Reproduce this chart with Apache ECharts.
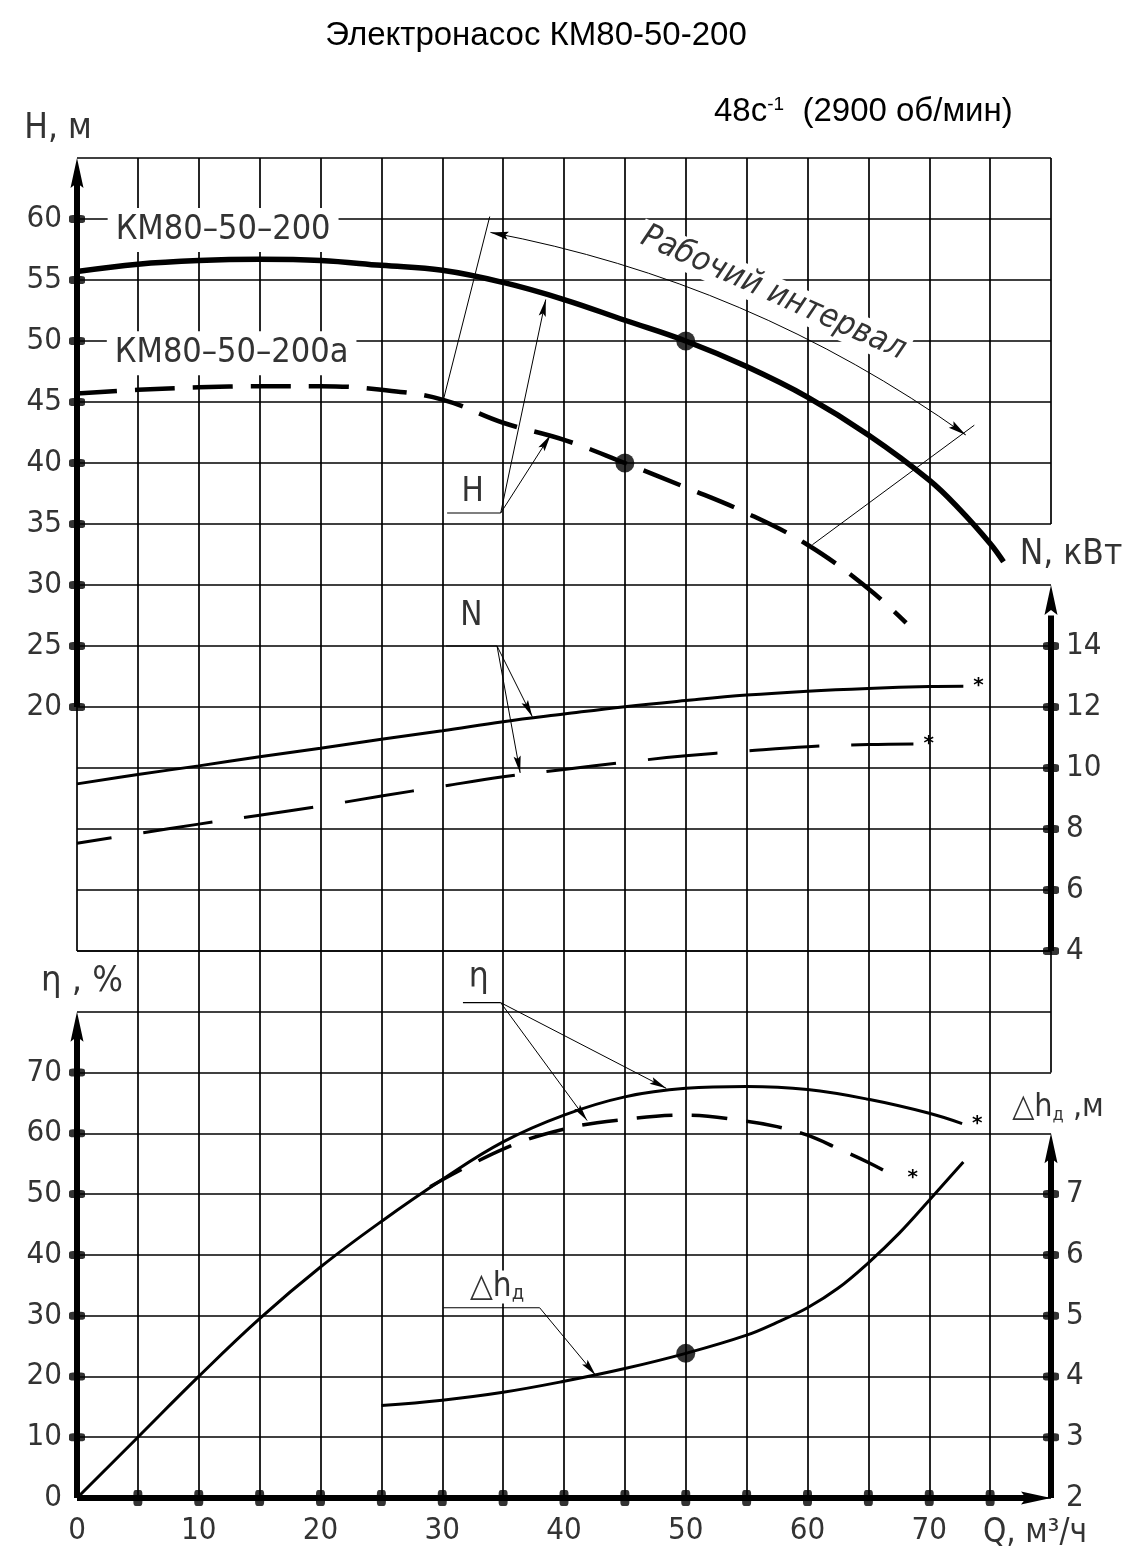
<!DOCTYPE html>
<html>
<head>
<meta charset="utf-8">
<title>Электронасос КМ80-50-200</title>
<script src="https://cdn.jsdelivr.net/npm/echarts@6.0.0/dist/echarts.min.js"></script>
<style>
  html, body { margin: 0; padding: 0; background: #fff; }
  #chart { width: 1135px; height: 1557px; }
</style>
</head>
<body>
<div id="chart"></div>
<script>
const FONT = '"Liberation Sans Narrow", "DejaVu Sans Condensed", "Roboto Condensed", sans-serif'
const TITLE_FONT = '"Liberation Sans", Arial, sans-serif'

// axis labels
const qLabels = [0, 10, 20, 30, 40, 50, 60, 70]
const qTickMarks = [5, 10, 15, 20, 25, 30, 35, 40, 45, 50, 55, 60, 65, 70, 75]
const hLabels = [20, 25, 30, 35, 40, 45, 50, 55, 60]
const nLabels = [4, 6, 8, 10, 12, 14]
const etaLabels = [0, 10, 20, 30, 40, 50, 60, 70]
const dhLabels = [2, 3, 4, 5, 6, 7]

// H(Q), КМ80-50-200
const hMainQ = [0, 5, 10, 15, 20, 25, 30, 35, 40, 45, 50, 55, 60, 65, 70, 72.5, 75, 76.1]
const hMainH = [55.7, 56.3, 56.6, 56.7, 56.6, 56.2, 55.8, 54.8, 53.4, 51.7, 50.0, 47.9, 45.4, 42.3, 38.6, 36.2, 33.4, 31.9]
// H(Q), КМ80-50-200а
const hAltQ = [0, 5, 10, 15, 20, 25, 30, 35, 40, 45, 50, 55, 60, 65, 68.1]
const hAltH = [45.7, 46.0, 46.2, 46.3, 46.3, 46.0, 45.2, 43.3, 41.9, 40.0, 38.0, 35.9, 33.3, 29.7, 26.9]
// N(Q), кВт
const nMainQ = [0, 5, 10, 15, 20, 25, 30, 35, 40, 45, 50, 55, 60, 65, 70, 72.8]
const nMainN = [9.48, 9.79, 10.07, 10.37, 10.65, 10.94, 11.22, 11.52, 11.77, 12.01, 12.21, 12.39, 12.52, 12.61, 12.67, 12.68]
const nAltQ = [0, 5, 10, 15, 20, 25, 30, 35, 40, 45, 50, 55, 60, 65, 68.7]
const nAltN = [7.53, 7.85, 8.16, 8.45, 8.75, 9.08, 9.40, 9.71, 9.95, 10.19, 10.40, 10.56, 10.70, 10.77, 10.79]
// η(Q), %
const etaMainQ = [0, 5, 10, 15, 20, 25, 30, 35, 40, 45, 50, 55, 60, 65, 70, 72.7]
const etaMainE = [0, 10.0, 20.0, 29.5, 38.0, 45.5, 52.4, 58.6, 63.0, 66.0, 67.4, 67.7, 67.2, 65.6, 63.3, 61.6]
const etaAltQ = [29, 35, 40, 45, 50, 55, 57.5, 60, 62.5, 65, 67.4]
const etaAltE = [51.2, 57.4, 60.7, 62.3, 63.0, 62.0, 61.1, 59.7, 57.5, 55.2, 52.7]
// Δh(Q), м
const dhQ = [25, 30, 35, 40, 45, 50, 55, 57.5, 60, 62.5, 65, 67.5, 70, 72.8]
const dhV = [3.52, 3.61, 3.74, 3.92, 4.13, 4.38, 4.68, 4.89, 5.13, 5.45, 5.87, 6.35, 6.9, 7.53]
// рабочие точки
const dutyMain = [50, 50]
const dutyAlt = [45, 40]
const dutyDh = [50, 4.38]

// axis pairs
const G0 = { xAxisIndex: 0, yAxisIndex: 0 } // Q - H
const GN = { xAxisIndex: 0, yAxisIndex: 1 } // Q - N
const G1 = { xAxisIndex: 1, yAxisIndex: 2 } // Q - η
const GD = { xAxisIndex: 1, yAxisIndex: 3 } // Q - Δh

const zip = (xs, ys) => xs.map((x, i) => [x, ys[i]])

function curve(axes, xs, ys, width, dash, star, offset) {
  const s = {
    type: 'line', ...axes, data: zip(xs, ys), symbol: 'none',
    smooth: 0.4, silent: true, z: 4,
    lineStyle: { color: '#000', width: width, type: dash || 'solid', dashOffset: offset || 0 }
  }
  if (star) {
    s.endLabel = { show: true, formatter: '*', color: '#000', fontSize: 20, fontWeight: 'bold', fontFamily: 'DejaVu Sans', distance: 10 }
  }
  return s
}

function seg(axes, pts, width) {
  return { type: 'line', ...axes, data: pts, symbol: 'none', silent: true, z: 3, lineStyle: { color: '#000', width: width } }
}

function blobs(axes, pts, size) {
  return { type: 'scatter', ...axes, data: pts, symbol: 'roundRect', symbolSize: size, itemStyle: { color: '#000' }, silent: true, z: 5 }
}

function dot(axes, pt) {
  return { type: 'scatter', ...axes, data: [pt], symbol: 'circle', symbolSize: 19, itemStyle: { color: '#000' }, silent: true, z: 6 }
}

const gridLine = { show: true, lineStyle: { color: '#000', width: 1.7 } }
const labelFont = { fontFamily: FONT, fontSize: 31, color: '#333' }
const pick = list => v => (list.includes(v) ? String(v) : '')

// annotation anchors (data units)
const arcEnds = [[33.96, 58.9], [73.0, 42.3]]
const arcCurve = 0.11
const extLeft = [[33.9, 60.2], [30.1, 45.2]]
const extRight = [[73.7, 43.1], [60.4, 33.3]]
const leadH = { under: [[30.4, 35.9], [34.8, 35.9]], tips: [[38.5, 53.4], [38.9, 42.3]] }
const leadN = { under: [[30.3, 25.0], [34.5, 25.0]], tips: [[37.4, 19.2], [36.4, 14.6]] }
const leadEta = { under: [[31.7, 81.5], [34.8, 81.5]], tips: [[48.4, 67.4], [41.9, 62.1]] }
const leadDh = { under: [[30.1, 31.3], [38.0, 31.3]], tips: [[42.6, 20.2]] }

function leaderSeries(axes, lead) {
  const out = [seg(axes, lead.under, 1.2)]
  lead.tips.forEach(t => out.push(seg(axes, [lead.under[1], t], 1)))
  return out
}

const option = {
  animation: false,
  backgroundColor: '#fff',
  grid: [
    { left: 77, right: 84, top: 158, height: 793, outerBoundsMode: 'none' },
    { left: 77, right: 84, top: 951, height: 547, outerBoundsMode: 'none' }
  ],
  xAxis: [
    {
      gridIndex: 0, type: 'value', min: 0, max: 80, interval: 5,
      axisLine: { show: false }, axisTick: { show: false }, axisLabel: { show: false },
      splitLine: { ...gridLine, showMinLine: false, showMaxLine: false }
    },
    {
      gridIndex: 1, type: 'value', min: 0, max: 80, interval: 5,
      axisLine: { show: false }, axisTick: { show: false },
      axisLabel: { ...labelFont, margin: 17, formatter: pick(qLabels) },
      splitLine: { ...gridLine, showMinLine: false, showMaxLine: false }
    }
  ],
  yAxis: [
    {
      gridIndex: 0, type: 'value', min: 0, max: 65, interval: 5, position: 'left',
      axisLine: { show: false }, axisTick: { show: false },
      axisLabel: { ...labelFont, margin: 15, padding: [7, 0, 0, 0], formatter: pick(hLabels) },
      splitLine: gridLine
    },
    {
      gridIndex: 0, type: 'value', min: 4, max: 30, interval: 2, position: 'right',
      axisLine: { show: false }, axisTick: { show: false }, splitLine: { show: false },
      axisLabel: { ...labelFont, margin: 15, padding: [9, 0, 0, 0], formatter: pick(nLabels) }
    },
    {
      gridIndex: 1, type: 'value', min: 0, max: 90, interval: 10, position: 'left',
      axisLine: { show: false }, axisTick: { show: false },
      axisLabel: { ...labelFont, margin: 15, padding: [7, 0, 0, 0], formatter: pick(etaLabels) },
      splitLine: gridLine
    },
    {
      gridIndex: 1, type: 'value', min: 2, max: 11, interval: 1, position: 'right',
      axisLine: { show: false }, axisTick: { show: false }, splitLine: { show: false },
      axisLabel: { ...labelFont, margin: 15, padding: [9, 0, 0, 0], formatter: pick(dhLabels) }
    }
  ],
  series: [
    // frame edges and thick axes
    seg(G0, [[0, 0], [0, 20]], 1.7),
    seg(G0, [[0, 20], [0, 63]], 6),
    seg(G0, [[80, 35], [80, 65]], 1.7),
    seg(GN, [[80, 4], [80, 15]], 6),
    seg(G1, [[80, 70], [80, 90]], 1.7),
    seg(G1, [[0, 0], [0, 77]], 6),
    seg(GD, [[80, 2], [80, 7.6]], 6),
    seg(G1, [[0, 0], [78, 0]], 6),
    blobs(G0, hLabels.map(v => [0, v]), [16, 8]),
    blobs(GN, nLabels.map(v => [80, v]), [16, 8]),
    blobs(G1, etaLabels.filter(v => v > 0).map(v => [0, v]), [16, 8]),
    blobs(GD, dhLabels.filter(v => v > 2).map(v => [80, v]), [16, 8]),
    blobs(G1, qTickMarks.map(v => [v, 0]), [9, 16]),

    // characteristic curves
    curve(G0, hMainQ, hMainH, 5.5),
    curve(G0, hAltQ, hAltH, 4.5, [40, 18]),
    curve(GN, nMainQ, nMainN, 3, null, true),
    curve(GN, nAltQ, nAltN, 3, [70, 32], true, 35),
    curve(G1, etaMainQ, etaMainE, 3, null, true),
    curve(G1, etaAltQ, etaAltE, 3.5, [36, 19], true),
    curve(GD, dhQ, dhV, 3),
    dot(G0, dutyMain),
    dot(G0, dutyAlt),
    dot(GD, dutyDh),

    // working range arc and extension lines
    {
      type: 'lines', coordinateSystem: 'cartesian2d', ...G0, silent: true, z: 3,
      data: [{ coords: arcEnds }],
      lineStyle: { color: '#000', width: 1, curveness: arcCurve, opacity: 1 }
    },
    seg(G0, extLeft, 1),
    seg(G0, extRight, 1),
    ...leaderSeries(G0, leadH),
    ...leaderSeries(G0, leadN),
    ...leaderSeries(G1, leadEta),
    ...leaderSeries(G1, leadDh)
  ]
}

const chart = echarts.init(document.getElementById('chart'))
chart.setOption(option)

const px = (axes, pt) => chart.convertToPixel(axes, pt)

function head(tip, from, len, half, notch) {
  const dx = tip[0] - from[0], dy = tip[1] - from[1]
  const d = Math.hypot(dx, dy), ux = dx / d, uy = dy / d
  const bx = tip[0] - ux * len, by = tip[1] - uy * len
  return {
    type: 'polygon', z: 10,
    shape: { points: [tip, [bx - uy * half, by + ux * half], [tip[0] - ux * (len - notch), tip[1] - uy * (len - notch)], [bx + uy * half, by - ux * half]] },
    style: { fill: '#000' }
  }
}

function text(x, y, str, size, extra) {
  return {
    type: 'text', x: x, y: y, z: 1,
    style: Object.assign({ text: str, fill: '#333', fontFamily: FONT, fontSize: size, align: 'center', verticalAlign: 'middle' }, extra)
  }
}

function textAt(axes, pt, str, size, extra) {
  const p = px(axes, pt)
  return text(p[0], p[1], str, size, extra)
}

const white = { backgroundColor: '#fff' }
const g = []

// titles
g.push(text(536, 36, 'Электронасос КМ80-50-200', 33, { fontFamily: TITLE_FONT, fill: '#000' }))
g.push(text(714, 112, '48с{sup|-1}  (2900 об/мин)', 33, {
  fontFamily: TITLE_FONT, fill: '#000', align: 'left',
  rich: { sup: { fontFamily: TITLE_FONT, fontSize: 19, verticalAlign: 'top', fill: '#000' } }
}))

// axis names
g.push(text(58, 129, 'H, м', 35))
g.push(text(82, 982, 'η , %', 36))
g.push(text(1071, 555, 'N, кВт', 35))
g.push(text(1058, 1108, '△h{s|д} ,м', 32, { rich: { s: { fontFamily: FONT, fontSize: 18, verticalAlign: 'bottom', fill: '#333' } } }))
g.push(text(1035, 1533, 'Q, м³/ч', 33))

// curve names and notes
g.push(textAt(G0, [12.0, 59.1], 'КМ80–50–200', 34, { ...white, padding: [5, 8] }))
g.push(textAt(G0, [12.7, 49.0], 'КМ80–50–200а', 34, { ...white, padding: [5, 8] }))
const rp = px(G0, [57.2, 53.9])
g.push({
  type: 'text', x: rp[0], y: rp[1], rotation: -24 * Math.PI / 180, z: 1,
  style: { text: 'Рабочий интервал', fill: '#333', fontFamily: FONT, fontSize: 33, fontStyle: 'italic', align: 'center', verticalAlign: 'middle', backgroundColor: '#fff', padding: [0, 4] }
})
g.push(textAt(G0, [32.5, 37.6], 'H', 33))
g.push(textAt(G0, [32.4, 27.4], 'N', 33))
g.push(textAt(G1, [33.0, 85.6], 'η', 35))
g.push(textAt(G1, [34.5, 34.7], '△h{s|д}', 33, { ...white, padding: [0, 2], rich: { s: { fontFamily: FONT, fontSize: 20, verticalAlign: 'bottom', fill: '#333' } } }))

// arrowheads of the leaders
;[[G0, leadH], [G0, leadN], [G1, leadEta], [G1, leadDh]].forEach(([axes, lead]) => {
  const from = px(axes, lead.under[1])
  lead.tips.forEach(t => g.push(head(px(axes, t), from, 17, 3.6, 3)))
})

// arrowheads of the curved dimension line
const a1 = px(G0, arcEnds[0]), a2 = px(G0, arcEnds[1])
const cp = [(a1[0] + a2[0]) / 2 - (a1[1] - a2[1]) * arcCurve, (a1[1] + a2[1]) / 2 - (a2[0] - a1[0]) * arcCurve]
g.push(head(a1, cp, 18, 4, 3))
g.push(head(a2, cp, 18, 4, 3))

// axis arrows
g.push(head(px(G0, [0, 65]), px(G0, [0, 60]), 30, 6.5, 5))
g.push(head(px(G1, [0, 80]), px(G1, [0, 70]), 30, 6.5, 5))
g.push(head(px(G1, [80, 0]), px(G1, [70, 0]), 30, 6.5, 5))
g.push(head(px(GN, [80, 16]), px(GN, [80, 14]), 30, 6.5, 5))
g.push(head(px(GD, [80, 8]), px(GD, [80, 7]), 30, 6.5, 5))

chart.setOption({ graphic: g })
</script>
</body>
</html>
